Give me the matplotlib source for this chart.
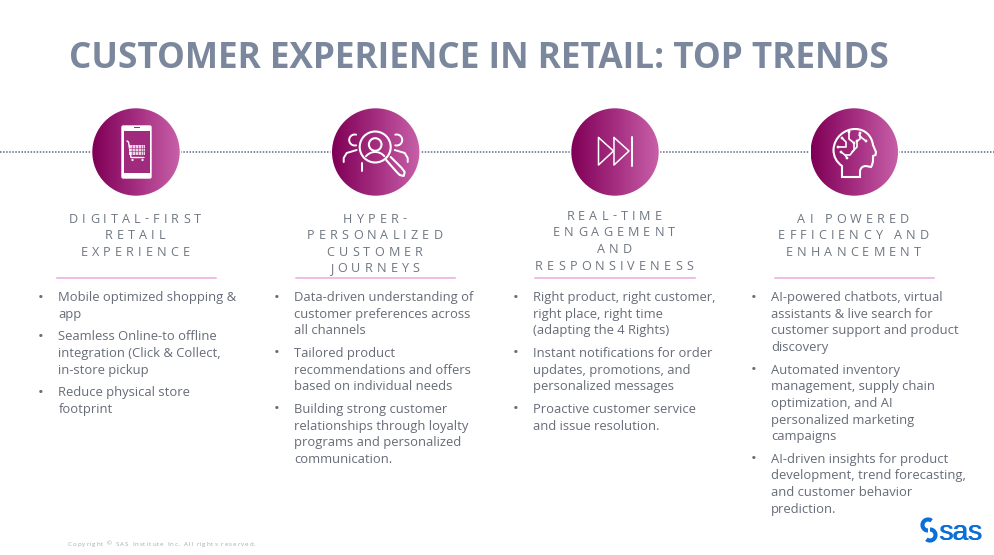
import numpy as np
import matplotlib
matplotlib.use("Agg")
import matplotlib.pyplot as plt
from matplotlib.patches import Circle, FancyBboxPatch, Rectangle, PathPatch
from matplotlib.path import Path
from matplotlib.colors import LinearSegmentedColormap
from matplotlib.textpath import TextPath
from matplotlib.font_manager import FontProperties

title = "CUSTOMER EXPERIENCE IN RETAIL: TOP TRENDS"
copyright_text = "Copyright © SAS Institute Inc. All rights reserved."
logo_text = "sas"

centers_x = [136, 375.7, 615, 854.3]
headings = [
    ["DIGITAL-FIRST", "RETAIL", "EXPERIENCE"],
    ["HYPER-", "PERSONALIZED", "CUSTOMER", "JOURNEYS"],
    ["REAL-TIME", "ENGAGEMENT", "AND", "RESPONSIVENESS"],
    ["AI POWERED", "EFFICIENCY AND", "ENHANCEMENT"],
]
heading_y = [
    [218, 234.5, 251],
    [218, 234.5, 251, 267.5],
    [215, 231.5, 248, 265],
    [218, 234.5, 251],
]
rule_x = [(57, 216), (296, 455), (535, 694.5), (775, 934)]
bullets = [
    [["Mobile optimized shopping &", "app"],
     ["Seamless Online-to offline", "integration (Click & Collect,", "in-store pickup"],
     ["Reduce physical store", "footprint"]],
    [["Data-driven understanding of", "customer preferences across", "all channels"],
     ["Tailored product", "recommendations and offers", "based on individual needs"],
     ["Building strong customer", "relationships through loyalty", "programs and personalized", "communication."]],
    [["Right product, right customer,", "right place, right time", "(adapting the 4 Rights)"],
     ["Instant notifications for order", "updates, promotions, and", "personalized messages"],
     ["Proactive customer service", "and issue resolution."]],
    [["AI-powered chatbots, virtual", "assistants & live search for", "customer support and product", "discovery"],
     ["Automated inventory", "management, supply chain", "optimization, and AI", "personalized marketing", "campaigns"],
     ["AI-driven insights for product", "development, trend forecasting,", "and customer behavior", "prediction."]],
]
bullet_x = [(41, 58.5), (276.5, 294), (515.5, 533), (753.5, 771)]
bullet_start_y = [296, 296, 296, 296]

FONT = "Open Sans"
GREY = "#666c78"
HEAD = "#6f7681"
TITLE = "#7b879c"
WHITE = "white"

fig = plt.figure(figsize=(9.95, 5.55), dpi=100, facecolor="white")
ax = fig.add_axes([0, 0, 1, 1])
ax.set_xlim(0, 995)
ax.set_ylim(555, 0)
ax.axis("off")


def spaced(text, cx, y, size_px, gap, color, weight="normal", ha="center", family=FONT):
    fp = FontProperties(family=family, size=size_px, weight=weight)
    base = TextPath((0, 0), "HH", prop=fp).get_extents().x1
    widths = [TextPath((0, 0), "H" + ch + "H", prop=fp).get_extents().x1 - base for ch in text]
    total = sum(widths) + gap * (len(text) - 1)
    x = cx - total / 2 if ha == "center" else cx
    for ch, w in zip(text, widths):
        ax.text(x, y + 0.36 * size_px, ch, fontsize=size_px * 0.72, family=family, weight=weight,
                color=color, ha="left", va="baseline")
        x += w + gap


ax.text(69, 55, title, fontsize=25.3, family=FONT, weight="bold", color=TITLE,
        ha="left", va="center_baseline")

# dotted line
ax.plot([0, 995], [152, 152], color="#5a6a88", lw=1.1, ls=(0, (1, 1)), zorder=1)

cmap = LinearSegmentedColormap.from_list("m", ["#7f0056", "#a42d80", "#c860a8"])
grad = np.linspace(0, 1, 256).reshape(1, -1)
R = 43.7
CY = 152
for cx in centers_x:
    ax.add_patch(Circle((cx, CY), R + 1.5, fc="white", ec="none", zorder=2))
    im = ax.imshow(grad, extent=(cx - R, cx + R, CY + R, CY - R), cmap=cmap,
                   aspect="auto", zorder=3, interpolation="bilinear")
    im.set_clip_path(Circle((cx, CY), R, transform=ax.transData))
ax.set_xlim(0, 995)
ax.set_ylim(555, 0)


def line(pts, lw=1.4, closed=False, color=WHITE):
    pts = list(pts)
    if closed:
        pts = pts + [pts[0]]
    xs, ys = zip(*pts)
    ax.plot(xs, ys, color=color, lw=lw, zorder=5, solid_capstyle="round",
            solid_joinstyle="round")


def arc(cx, cy, r, a0, a1, lw=1.4):
    t = np.radians(np.linspace(a0, a1, 40))
    line(list(zip(cx + r * np.cos(t), cy - r * np.sin(t))), lw=lw)


def dot(x, y, r=1.3):
    ax.add_patch(Circle((x, y), r, fc=WHITE, ec="none", zorder=6))


# Phone icon
ax.add_patch(FancyBboxPatch((122, 126), 29, 52, boxstyle="round,pad=0,rounding_size=1.2",
                            fc=WHITE, ec=WHITE, lw=1, zorder=4))
ax.add_patch(Rectangle((124, 131), 25.5, 42, fc="#a02a7c", ec="none", zorder=5))
ax.add_patch(Rectangle((134, 126.8), 6, 1.5, fc="#a02a7c", ec="none", zorder=5))
line([(127, 141), (128.5, 142), (131, 157.5), (144, 157.5)], lw=1.0)
ax.add_patch(Rectangle((128.5, 144.5), 16.5, 10, fc=WHITE, ec="none", alpha=0.8, zorder=5))
for gx in [131.5, 134.5, 137.5, 140.5, 143]:
    line([(gx, 144.5), (gx, 154.5)], lw=0.4, color="#a02a7c")
for gy in [147.5, 151]:
    line([(128.5, gy), (145, gy)], lw=0.4, color="#a02a7c")
dot(132.5, 160, 1.1)
dot(142.5, 160, 1.1)

# People + magnifier icon
c = centers_x[1]
ax.add_patch(Circle((c - 0.5, 147), 15.5, fc="none", ec=WHITE, lw=1.5, zorder=5))
ax.add_patch(Circle((c - 0.5, 144.5), 6.3, fc="none", ec=WHITE, lw=1.5, zorder=5))
arc(c - 0.5, 164, 12, 40, 140)
arc(c - 21, 140, 5.5, 75, 285)
arc(c + 21, 140, 5.5, -105, 105)
line([(c - 32, 162), (c - 32, 158), (c - 29, 153), (c - 19, 150)])
line([(c + 32, 162), (c + 32, 158), (c + 29, 153), (c + 19, 150)])
line([(c - 14, 171), (c - 14, 163)])
line([(c + 10.5, 160), (c + 14, 164), (c + 21, 172), (c + 24, 175),
      (c + 28, 176), (c + 29, 172), (c + 26, 168), (c + 19, 161), (c + 15, 157)], lw=1.5)

# Fast-forward icon
line([(598.5, 137.5), (613.5, 151), (598.5, 165)], lw=1.1, closed=True)
line([(614, 137.5), (629, 151), (614, 165)], lw=1.1, closed=True)
line([(631.5, 137), (631.5, 165.5)], lw=1.4)

# AI head icon
verts = [(842, 177), (842, 166), (833.5, 160), (833.5, 150), (834, 137), (845, 129),
         (855, 129), (866, 129), (872, 137), (873, 145), (876, 152), (875.5, 155),
         (873, 156), (873, 160), (873, 164), (871, 167), (866, 166), (861, 166),
         (860, 171), (860, 177), (842, 177)]
ax.add_patch(PathPatch(Path(verts, [Path.MOVETO, Path.LINETO, Path.CURVE3, Path.CURVE3,
                                    Path.CURVE4, Path.CURVE4, Path.CURVE4, Path.CURVE4,
                                    Path.CURVE4, Path.CURVE4, Path.LINETO, Path.LINETO,
                                    Path.LINETO, Path.LINETO, Path.CURVE3, Path.CURVE3,
                                    Path.LINETO, Path.CURVE3, Path.CURVE3, Path.LINETO,
                                    Path.CLOSEPOLY]),
                       fc="none", ec=WHITE, lw=1.5, zorder=5))
line([(849, 132), (849, 139), (854, 143), (854, 150), (850, 155), (845, 155)], lw=1.2)
line([(842, 138), (846, 142), (846, 147), (838, 147)], lw=1.2)
line([(860, 133), (860, 139), (857, 141), (857, 147), (852, 152)], lw=1.2)
line([(841, 152), (845, 155), (847, 158)], lw=1.2)
for p in [(849, 132), (842, 138), (838, 147), (860, 133), (847, 158), (841, 152),
          (854, 143), (857, 141), (866, 141)]:
    dot(*p, 1.4)
line([(859, 135), (862, 138), (866, 141)], lw=1.2)

# Headings, rules, bullets
for cx, lines_, ys in zip(centers_x, headings, heading_y):
    for txt, y in zip(lines_, ys):
        spaced(txt, cx - 1, y, 12.6, 4.15, HEAD)
for (x0, x1) in rule_x:
    ax.plot([x0, x1], [278, 278], color="#efaadd", lw=1.1, zorder=2)

LH = 16.65
GAP = 6.0
for groups, (bx, tx), y0 in zip(bullets, bullet_x, bullet_start_y):
    y = y0
    for group in groups:
        ax.text(bx, y, "•", fontsize=11, family=FONT, color=GREY, ha="center",
                va="center_baseline")
        for ln in group:
            ax.text(tx, y, ln, fontsize=9.35, family=FONT, color=GREY, ha="left",
                    va="center_baseline")
            y += LH
        y += GAP

spaced(copyright_text, 68, 543.5, 6.1, 1.0, "#a4a9b2", ha="left")

# SAS logo
BLUE = "#0a6fd8"
ax.text(938.5, 530, logo_text, fontsize=20.2, family="Liberation Sans", color=BLUE, ha="left",
        va="center_baseline", weight="normal")
ax.text(938.9, 530, logo_text, fontsize=20.2, family="Liberation Sans", color=BLUE, ha="left",
        va="center_baseline", weight="normal")
t = np.radians(np.linspace(50, 270, 40))
ax.plot(928 + 5.5 * np.cos(t), 525 - 5.5 * np.sin(t), color=BLUE, lw=3.0, zorder=5,
        solid_capstyle="butt")
t = np.radians(np.linspace(-130, 90, 40))
ax.plot(930 + 5.5 * np.cos(t), 535 - 5.5 * np.sin(t), color=BLUE, lw=3.0, zorder=5,
        solid_capstyle="butt")

fig.savefig("out.png", dpi=100)
